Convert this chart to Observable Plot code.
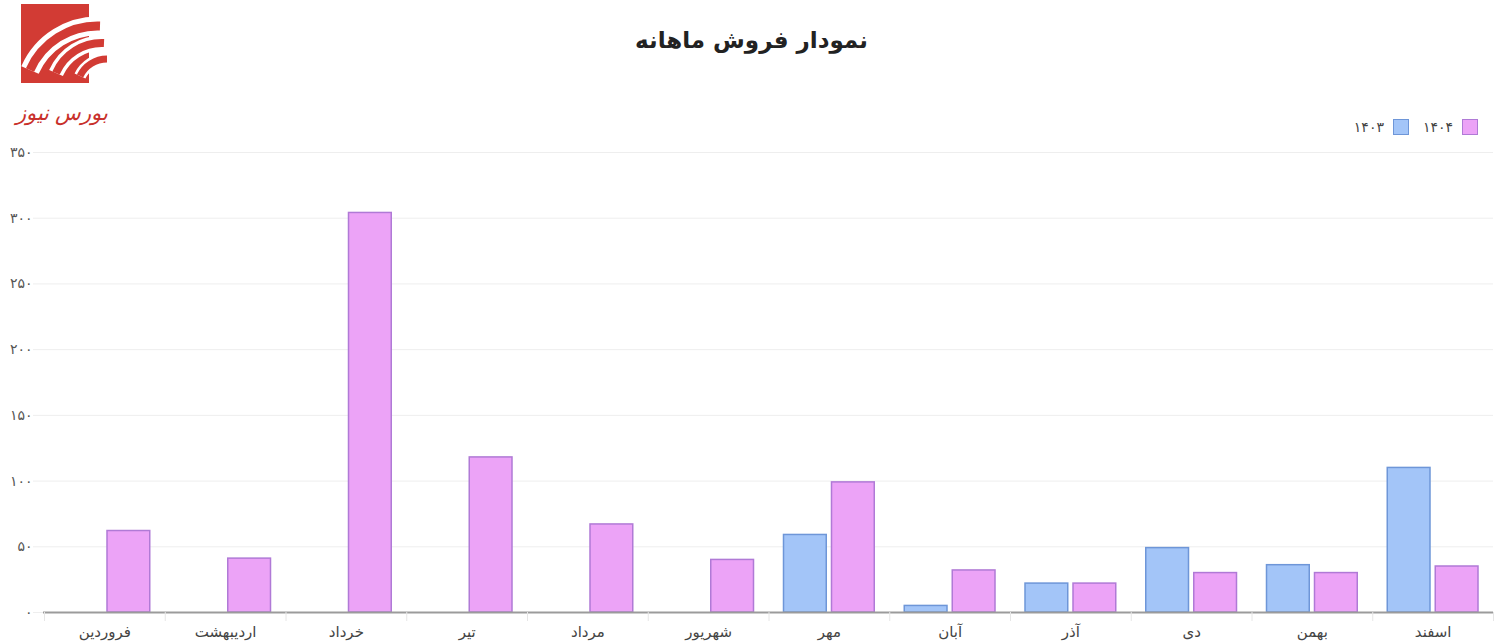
<!DOCTYPE html>
<html>
<head>
<meta charset="utf-8">
<script src="https://cdn.jsdelivr.net/npm/d3@7"></script>
<script src="https://cdn.jsdelivr.net/npm/@observablehq/plot@0.6"></script>
<style>
  body { margin: 0; background: #fff; font-family: "DejaVu Sans", sans-serif; }
  #wrap { position: relative; width: 1503px; height: 641px; overflow: hidden; background: #fff; }
  #logo { position: absolute; left: 0; top: 0; }
  #title { position: absolute; top: 27px; left: 0; width: 1503px; text-align: center; font-size: 23px; font-weight: bold; color: #222; direction: rtl; }
  #legend { position: absolute; top: 119px; right: 25px; display: flex; direction: rtl; gap: 14px; font-size: 14px; color: #444; }
  .item { display: flex; align-items: center; gap: 9px; direction: rtl; }
  .sw { width: 16px; height: 16px; box-sizing: border-box; border: 1.5px solid; }
  #chart { position: absolute; left: 0; top: 140px; }
</style>
</head>
<body>
<div id="wrap">
  <svg id="logo" width="130" height="140" viewBox="0 0 130 140">
    <rect x="21" y="4" width="68" height="79" fill="#d23b34"/>
    <path d="M30 70 A74 74 0 0 1 100 26" fill="none" stroke="#fff" stroke-width="19"/>
    <path d="M30 70 A74 74 0 0 1 100 26" fill="none" stroke="#d23b34" stroke-width="9"/>
    <path d="M56 73 A50 50 0 0 1 104 43" fill="none" stroke="#fff" stroke-width="15"/>
    <path d="M56 73 A50 50 0 0 1 104 43" fill="none" stroke="#d23b34" stroke-width="8"/>
    <path d="M80 76 A30 30 0 0 1 107 59" fill="none" stroke="#fff" stroke-width="12"/>
    <path d="M80 76 A30 30 0 0 1 107 59" fill="none" stroke="#d23b34" stroke-width="7"/>
    <text x="62" y="120" text-anchor="middle" fill="#c8302b" font-size="21" font-style="italic" font-family="DejaVu Serif" direction="rtl">بورس نیوز</text>
  </svg>
  <div id="title">نمودار فروش ماهانه</div>
  <div id="legend"></div>
  <div id="chart"></div>
</div>
<script>
const months = ["فروردین", "اردیبهشت", "خرداد", "تیر", "مرداد", "شهریور", "مهر", "آبان", "آذر", "دی", "بهمن", "اسفند"];
const seriesNames = ["۱۴۰۳", "۱۴۰۴"];
const sales1403 = [null, null, null, null, null, null, 59, 5, 22, 49, 36, 110];
const sales1404 = [62, 41, 304, 118, 67, 40, 99, 32, 22, 30, 30, 35];
const yTicks = [0, 50, 100, 150, 200, 250, 300, 350];
const fills = ["#a3c5f8", "#eca3f7"];
const strokes = ["#6e96d8", "#b07ad6"];

const fa = d => String(d).replace(/\d/g, c => "۰۱۲۳۴۵۶۷۸۹"[+c]);

const data1403 = months.map((m, i) => ({month: m, value: sales1403[i]})).filter(d => d.value != null);
const data1404 = months.map((m, i) => ({month: m, value: sales1404[i]}));

const W = 1503, mL = 44, mR = 10;
const bw = (W - mL - mR) / months.length;

const chart = Plot.plot({
  width: W,
  height: 501,
  marginTop: 12,
  marginBottom: 29,
  marginLeft: mL,
  marginRight: mR,
  x: {domain: months, padding: 0, round: false, label: null},
  y: {domain: [0, 350], label: null},
  style: {fontFamily: "DejaVu Sans", fontSize: "14px", color: "#555", background: "transparent"},
  marks: [
    Plot.ruleY(yTicks, {stroke: "#eeeeee", strokeWidth: 1, insetLeft: -11}),
    Plot.barY(data1403, {x: "month", y: "value", fill: fills[0], stroke: strokes[0], strokeWidth: 1.5, insetLeft: 15, insetRight: 63}),
    Plot.barY(data1404, {x: "month", y: "value", fill: fills[1], stroke: strokes[1], strokeWidth: 1.5, insetLeft: 63, insetRight: 15}),
    Plot.ruleY([0], {stroke: "#9b9b9b", strokeWidth: 2, insetLeft: -1}),
    Plot.axisY(yTicks, {tickSize: 0, tickPadding: 12, tickFormat: fa, fill: "#555", fontSize: 14}),
    Plot.axisX({tickSize: 0, tickPadding: 14, fill: "#444", fontSize: 15}),
    Plot.axisX({tickSize: 9, tickFormat: () => "", dx: -bw / 2, stroke: "#e6e6e6"}),
    Plot.axisX([months[months.length - 1]], {tickSize: 9, tickFormat: () => "", dx: bw / 2, stroke: "#e6e6e6"})
  ]
});
document.getElementById("chart").appendChild(chart);

const legend = document.getElementById("legend");
[1, 0].forEach(i => {
  const it = document.createElement("div");
  it.className = "item";
  const sw = document.createElement("span");
  sw.className = "sw";
  sw.style.background = fills[i];
  sw.style.borderColor = strokes[i];
  const lb = document.createElement("span");
  lb.textContent = seriesNames[i];
  it.appendChild(sw);
  it.appendChild(lb);
  legend.appendChild(it);
});
</script>
</body>
</html>
